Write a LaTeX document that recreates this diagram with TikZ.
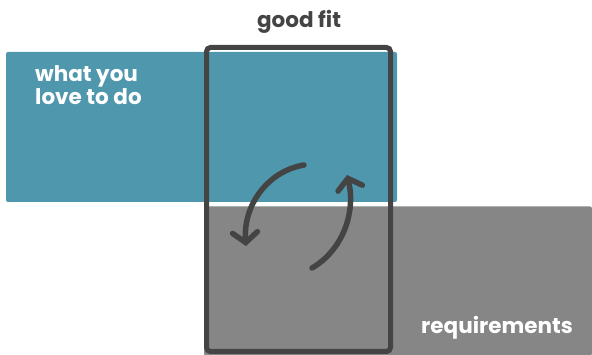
\documentclass[tikz,border=0pt]{standalone}
\usepackage{fontspec}
\setmainfont{Poppins}
\usetikzlibrary{arrows.meta}
\definecolor{loveblue}{HTML}{4F97AD}
\definecolor{reqgray}{HTML}{868686}
\definecolor{framegray}{HTML}{444444}
\tikzset{
  area/.style={fill=#1, draw=none, rounded corners=2pt, inner sep=0pt, outer sep=0pt},
  fitframe/.style={draw=framegray, line width=5pt, rounded corners=4pt, inner sep=0pt, outer sep=0pt},
  turn/.style={draw=framegray, line width=5.5pt, line cap=round, -{Straight Barb[length=10pt,width=25pt,line cap=round]}},
  label/.style={font=\bfseries\fontsize{21.5}{23}\selectfont, text=white, inner sep=0pt}
}

\begin{document}
\begin{tikzpicture}[x=1pt, y=-1pt]
  \useasboundingbox (0,0) rectangle (592,355);
  % the two areas
  \node[area=loveblue, minimum width=391pt, minimum height=150pt] (love) at (201.5,127) {};
  \node[area=reqgray, minimum width=388pt, minimum height=149pt] (req) at (398,281) {};
  % the frame of a good fit
  \node[fitframe, minimum width=184pt, minimum height=304pt] (fit) at (298.5,199.5) {};
  % texts
  \node[label, text=framegray, font=\bfseries\fontsize{21.5}{24}\selectfont] (fittext) at (299,22) {good fit};
  \node[label, anchor=north west, align=left] (lovetext) at (35,65) {what you\\love to do};
  \node[label] (reqtext) at (497,328) {requirements};
  % the two turning arrows
  \coordinate (downstart) at (304,165);
  \coordinate (downend) at (246,246);
  \coordinate (upstart) at (312,268);
  \coordinate (upend) at (347,175);
  \draw[turn] (downstart) .. controls (268,171) and (243,205) .. (downend);
  \draw[turn] (upstart) .. controls (343,250) and (356,212) .. (upend);
\end{tikzpicture}
\end{document}
